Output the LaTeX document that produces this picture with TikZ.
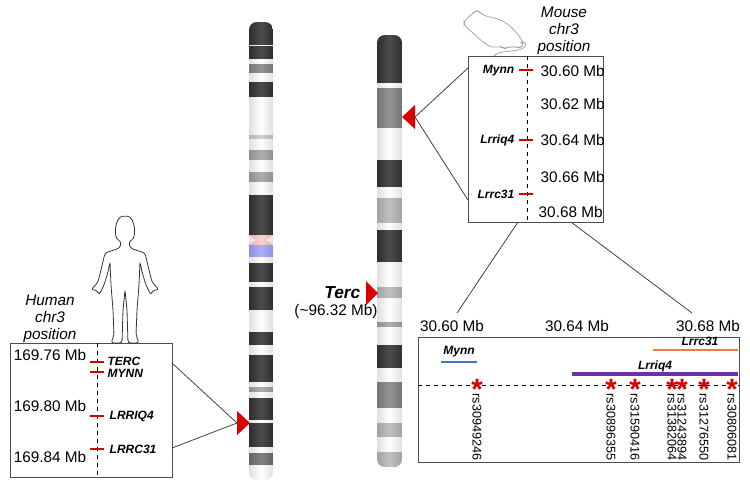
\documentclass[tikz,border=0pt]{standalone}
\usepackage{fontspec}
\setmainfont{Liberation Sans}
\definecolor{gblue}{HTML}{4472C4}
\definecolor{gorange}{HTML}{ED7D31}
\definecolor{gpurple}{HTML}{7030A0}
\begin{document}
\begin{tikzpicture}[x=0.75pt,y=-0.75pt,font=\fontsize{11.5}{13.5}\selectfont,
  box/.style={draw=black!70,line width=0.7pt},
  zoomline/.style={draw=black!75,line width=0.6pt},
  dline/.style={dashed,line width=0.7pt},
  tick/.style={draw=red!85!black,line width=1.5pt},
  gene/.style={font=\fontsize{9}{10}\selectfont\bfseries\itshape},
  tri/.style={fill=red!85!black,draw=none},
  snp/.style={text=red!85!black,font=\fontsize{22}{22}\selectfont\bfseries,inner sep=0pt}]
\useasboundingbox (0,0) rectangle (750,487);
% ---------- left chromosome ----------
\begin{scope}
\clip[rounded corners=6pt] (249,22) rectangle (273,480);
\fill[white] (249,22) rectangle (273,480);
\foreach \a/\b/\c in {22/45/black,46/59/black,64/73/black!60,82/97/black,135/139/black!25,150/160/black!45,172/182/black!45,195/235/black,263/282/black,287/310/black,332/345/black,355/382/black,387/392/black!45,398/420/black,423/447/black,453/465/black!70}
  \fill[\c] (249,\a) rectangle (273,\b);
\fill[red!25] (249,235) -- (273,235) -- (266,240) -- (273,245) -- (249,245) -- (256,240) -- cycle;
\fill[blue!45] (249,245) rectangle (273,257);
\shade[left color=black!40,right color=black!40,middle color=white,opacity=0.3] (249,22) rectangle (273,480);
\end{scope}
% ---------- right chromosome ----------
\begin{scope}
\clip[rounded corners=6pt] (377,35) rectangle (402,467);
\fill[white] (377,35) rectangle (402,467);
\foreach \a/\b/\c in {35/83/black,88/128/black!60,160/187/black,198/223/black!35,230/262/black,287/298/black!35,322/327/black!45,345/368/black,382/408/black!60,423/437/black!35,452/467/black!35}
  \fill[\c] (377,\a) rectangle (402,\b);
\shade[left color=black!40,right color=black!40,middle color=white,opacity=0.3] (377,35) rectangle (402,467);
\end{scope}
% ---------- arrows ----------
\coordinate (hA) at (237,423);
\coordinate (mA) at (415,117);
\fill[tri] (237,411) -- (250,423) -- (237,435) -- cycle;
\fill[tri] (415,105) -- (402,117) -- (415,129) -- cycle;
\fill[tri] (366,281) -- (378,293) -- (366,305) -- cycle;
\node[anchor=east,font=\fontsize{13}{14}\selectfont\bfseries\itshape] (terc) at (365,293) {Terc};
\node (tercpos) at (336,312) {(\textasciitilde96.32 Mb)};
% ---------- human box ----------
\node[box,minimum width=121.5pt,minimum height=100.5pt,inner sep=0,anchor=north west] (hbox) at (10,343) {};
\coordinate (h1) at (172,363);
\coordinate (h2) at (172,448);
\draw[zoomline] (h1) -- (hA) -- (h2);
\draw[dline] (97,343) -- (97,477);
\foreach \y in {362,372,416,449} \draw[tick] (90,\y) -- (104,\y);
\node (t1) at (50,355) {169.76 Mb};
\node (t2) at (50,406) {169.80 Mb};
\node (t3) at (50,457) {169.84 Mb};
\node[gene,anchor=west,inner sep=1pt] (g1) at (106,361) {TERC};
\node[gene,anchor=west,inner sep=1pt] (g2) at (106,373) {MYNN};
\node[gene,anchor=west] (g3) at (105,416) {LRRIQ4};
\node[gene,anchor=west] (g4) at (105,449) {LRRC31};
\node[font=\fontsize{11.5}{12.8}\selectfont\itshape,align=center] (hlab) at (50,319) {Human\\chr3\\position};
% human figure
\draw[black!80,line width=0.6pt,rounded corners=2pt]
 (121,241) .. controls (113,238) and (115,217) .. (125,216) .. controls (135,217) and (137,238) .. (129,241)
 -- (130,248) -- (145,253) -- (149,270) -- (152,282) -- (159,290) -- (153,290) -- (151,295) -- (146,285) -- (142,272) -- (140,262)
 -- (139,285) -- (137,310) -- (136,335) -- (139,343) -- (128,343) -- (127,310) -- (125,290)
 -- (123,310) -- (122,343) -- (111,343) -- (114,335) -- (113,310) -- (111,285) -- (110,262)
 -- (108,272) -- (104,285) -- (99,295) -- (97,290) -- (91,290) -- (98,282) -- (101,270) -- (105,253) -- (120,248) -- cycle;
% ---------- mouse box ----------
\node[box,minimum width=101.25pt,minimum height=124.5pt,inner sep=0,anchor=north west] (mbox) at (468,56) {};
\coordinate (m1) at (468,68);
\coordinate (m2) at (468,200);
\draw[zoomline] (m1) -- (mA) -- (m2);
\draw[dline] (527,56) -- (527,222);
\foreach \y in {70,140,194} \draw[tick] (519,\y) -- (533,\y);
\node[anchor=west] (n1) at (536,71) {30.60 Mb};
\node[anchor=west] (n2) at (536,104) {30.62 Mb};
\node[anchor=west] (n3) at (536,140) {30.64 Mb};
\node[anchor=west] (n4) at (536,177) {30.66 Mb};
\node[anchor=west] (n5) at (534,212) {30.68 Mb};
\node[gene,anchor=east] (mg1) at (519,71) {Mynn};
\node[gene,anchor=east] (mg2) at (519,140) {Lrriq4};
\node[gene,anchor=east] (mg3) at (519,194) {Lrrc31};
\node[font=\fontsize{11.5}{12.8}\selectfont\itshape,align=center] (mlab) at (564,31) {Mouse\\chr3\\position};
% mouse figure
\draw[black!35,line width=0.6pt,rounded corners=3pt]
 (464,20) -- (472,15) -- (475,10) -- (480,12) -- (484,16) -- (496,18) -- (508,24) -- (516,32) -- (522,40) -- (524,46) -- (518,48) -- (512,46)
 -- (505,49) -- (500,46) -- (492,48) -- (486,44) -- (478,38) -- (470,30) -- (464,26) -- cycle;
\draw[black!35,line width=0.6pt] (520,43) .. controls (528,40) and (528,48) .. (518,50) .. controls (505,52) and (496,52) .. (494,56);
% zoom lines to bottom box
\coordinate (b1) at (457,313);
\coordinate (b2) at (692,313);
\draw[zoomline] (518,222) -- (b1);
\draw[zoomline] (571,222) -- (b2);
% ---------- bottom box ----------
\node[box,minimum width=240.75pt,minimum height=93.75pt,inner sep=0,anchor=north west] (bbox) at (418,337) {};
\node (p1) at (452,326) {30.60 Mb};
\node (p2) at (577,326) {30.64 Mb};
\node (p3) at (708,326) {30.68 Mb};
\draw[dline] (418,385) -- (739,385);
\draw[gblue,line width=2.2pt] (441,362) -- (477,362);
\draw[gorange,line width=2.2pt] (653,350) -- (738,350);
\draw[gpurple,line width=2.5pt] (572,374) -- (738,374);
\node[gene] (lb1) at (459,352) {Mynn};
\node[gene] (lb2) at (700,341) {Lrrc31};
\node[gene] (lb3) at (655,366) {Lrriq4};
\foreach \x/\n in {477/rs30949246,611/rs30896355,635/rs31590416,672/rs31382064,682/rs31243894,704/rs31276550,732/rs30806081}{
  \node[snp] (s\n) at (\x,389) {*};
  \node[rotate=-90,anchor=west,inner sep=1pt,font=\fontsize{9.5}{10}\selectfont] (l\n) at (\x,392) {\n};
}
\end{tikzpicture}
\end{document}
